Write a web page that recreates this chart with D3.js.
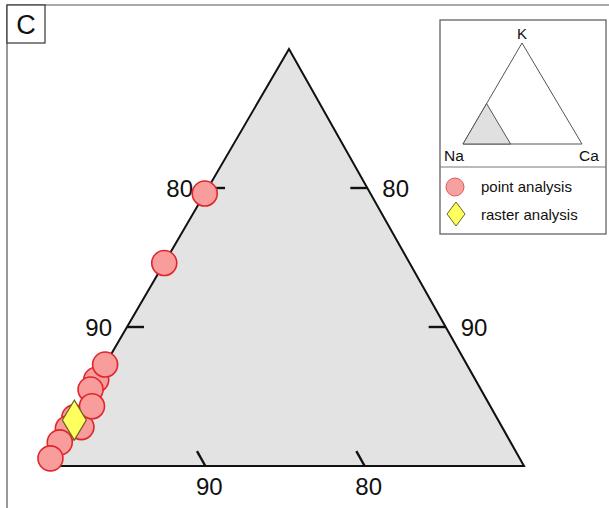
<!DOCTYPE html>
<html>
<head>
<meta charset="utf-8">
<script src="https://cdn.jsdelivr.net/npm/d3@7"></script>
<style>
  body { margin: 0; background: #fff; }
  svg { display: block; }
  text { font-family: "Liberation Sans", Arial, sans-serif; fill: #111; }
</style>
</head>
<body>
<svg id="chart" width="609" height="508"></svg>
<script>
// Feldspar compositions (mol %), Na corner of the Na–K–Ca ternary.
// Na = 100 - K - Ca. Listed in drawing order.
const pointK  = [6.2, 5.5, 3.5, 2.7, 2.8, 1.7, 0.55, 4.3, 7.3, 14.6, 19.6];
const pointCa = [0.0, 0.0, 0.0, 0.0, 0.8, 0.0, 0.0, 0.7, 0.0, 0.0, 0.0];
const rasterK  = [3.3];
const rasterCa = [0.1];
const tickValues = [90, 80];
const span = 30;                 // plotted window: Na 100 → 70
const insetFraction = 0.4;       // shaded window drawn in the overview triangle

const svg = d3.select("#chart");
svg.append("rect").attr("width", 609).attr("height", 508).attr("fill", "#fff");

// Panel frame and letter box
svg.append("path")
  .attr("d", "M7,508 V5 H609")
  .attr("fill", "none").attr("stroke", "#555").attr("stroke-width", 1.2);
svg.append("rect").attr("x", 7).attr("y", 5).attr("width", 38).attr("height", 38)
  .attr("fill", "#fff").attr("stroke", "#333").attr("stroke-width", 1.2);
svg.append("text").attr("x", 26).attr("y", 34).attr("text-anchor", "middle")
  .attr("font-size", 27).text("C");

// Ternary projection: Na corner at bottom-left, Ca to the right, K to the top
const naV = [46, 466], caV = [524, 466], kV = [289, 49];
const xCa = d3.scaleLinear().domain([0, span]).range([0, caV[0] - naV[0]]);
const xK  = d3.scaleLinear().domain([0, span]).range([0, kV[0] - naV[0]]);
const yK  = d3.scaleLinear().domain([0, span]).range([naV[1], kV[1]]);
const proj = (k, ca) => [naV[0] + xCa(ca) + xK(k), yK(k)];

const g = svg.append("g");
g.append("path")
  .attr("d", d3.line()([proj(0, 0), proj(0, span), proj(span, 0)]) + "Z")
  .attr("fill", "#e3e3e3").attr("stroke", "#111").attr("stroke-width", 2)
  .attr("stroke-linejoin", "miter");

// Ticks
const tickLen = 17;
const ticks = g.append("g").attr("stroke", "#111").attr("stroke-width", 2.4);
const labels = g.append("g").attr("font-size", 24);
const upLeft = (() => {
  const dx = kV[0] - caV[0], dy = kV[1] - caV[1], L = Math.hypot(dx, dy);
  return [dx / L, dy / L];
})();

tickValues.forEach(v => {
  const r = 100 - v;
  // left edge (Na–K)
  const pl = proj(r, 0);
  ticks.append("line").attr("x1", pl[0]).attr("y1", pl[1])
    .attr("x2", pl[0] + tickLen).attr("y2", pl[1]);
  labels.append("text").attr("x", pl[0] - 15).attr("y", pl[1])
    .attr("dy", "0.36em").attr("text-anchor", "end").text(v);
  // right edge
  const pr = proj(r, span - r);
  ticks.append("line").attr("x1", pr[0]).attr("y1", pr[1])
    .attr("x2", pr[0] - tickLen).attr("y2", pr[1]);
  labels.append("text").attr("x", pr[0] + 15).attr("y", pr[1])
    .attr("dy", "0.36em").text(v);
  // bottom edge (Na–Ca)
  const pb = proj(0, r);
  ticks.append("line").attr("x1", pb[0]).attr("y1", pb[1])
    .attr("x2", pb[0] + upLeft[0] * tickLen).attr("y2", pb[1] + upLeft[1] * tickLen);
  labels.append("text").attr("x", pb[0] + 4).attr("y", pb[1] + 29)
    .attr("text-anchor", "middle").text(v);
});

// Point analyses
const pts = pointK.map((k, i) => proj(k, pointCa[i]));
g.append("g").selectAll("circle").data(pts).join("circle")
  .attr("cx", d => d[0]).attr("cy", d => d[1]).attr("r", 12.5)
  .attr("fill", "#f99c9c").attr("stroke", "#e0262b").attr("stroke-width", 1.6);

// Raster analysis
const diamond = (cx, cy, w, h) =>
  `M${cx},${cy - h} L${cx + w},${cy} L${cx},${cy + h} L${cx - w},${cy} Z`;
const rs = rasterK.map((k, i) => proj(k, rasterCa[i]));
g.append("g").selectAll("path").data(rs).join("path")
  .attr("d", d => diamond(d[0], d[1], 12, 20))
  .attr("fill", "#ffff5e").attr("stroke", "#6b6420").attr("stroke-width", 1.2);

// Overview inset with legend
const inset = svg.append("g");
inset.append("rect").attr("x", 440).attr("y", 20).attr("width", 166).attr("height", 214)
  .attr("fill", "#fff").attr("stroke", "#555").attr("stroke-width", 1.2);
inset.append("line").attr("x1", 440).attr("x2", 606).attr("y1", 167).attr("y2", 167)
  .attr("stroke", "#777").attr("stroke-width", 1);

const iNa = [463, 144], iCa = [582, 144], iK = [522, 43];
const ix = d3.scaleLinear().domain([0, 1]);
const lerp = (a, b, t) => [ix.range([a[0], b[0]])(t), ix.range([a[1], b[1]])(t)];
inset.append("path")
  .attr("d", d3.line()([iNa, iK, iCa]) + "Z")
  .attr("fill", "#fff").attr("stroke", "#555").attr("stroke-width", 1);
inset.append("path")
  .attr("d", d3.line()([iNa, lerp(iNa, iK, insetFraction), lerp(iNa, iCa, insetFraction)]) + "Z")
  .attr("fill", "#e0e0e0").attr("stroke", "#555").attr("stroke-width", 1);
inset.append("text").attr("x", iK[0]).attr("y", 39).attr("text-anchor", "middle")
  .attr("font-size", 15).text("K");
inset.append("text").attr("x", 444).attr("y", 161).attr("font-size", 15.5).text("Na");
inset.append("text").attr("x", 579).attr("y", 161).attr("font-size", 15.5).text("Ca");

inset.append("circle").attr("cx", 455).attr("cy", 187).attr("r", 9)
  .attr("fill", "#f7a0a0").attr("stroke", "#e05a5a").attr("stroke-width", 1);
inset.append("text").attr("x", 481).attr("y", 192).attr("font-size", 15).text("point analysis");
inset.append("path").attr("d", diamond(456, 214, 9, 12))
  .attr("fill", "#ffff5e").attr("stroke", "#6b6420").attr("stroke-width", 1);
inset.append("text").attr("x", 481).attr("y", 220).attr("font-size", 15).text("raster analysis");
</script>
</body>
</html>
